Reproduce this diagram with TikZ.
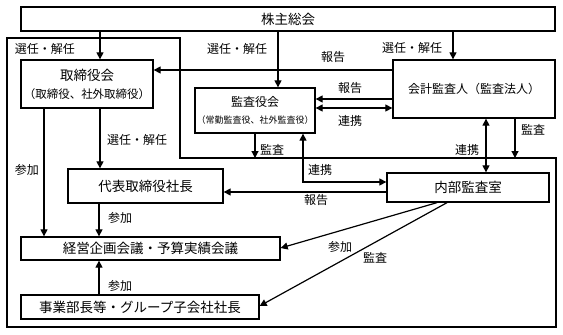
\documentclass[tikz,border=0pt]{standalone}
\usepackage{fontspec}
\setmainfont{Noto Sans CJK JP}
\usetikzlibrary{arrows.meta}
\begin{document}
\begin{tikzpicture}[x=1pt,y=-1pt,
 box/.style={draw, line width=1.3pt, inner sep=0pt, font=\fontsize{13.5}{18}\selectfont, align=center},
 tip/.tip={Triangle[length=7pt,width=7pt]},
 conn/.style={line width=1.2pt, -tip},
 dconn/.style={line width=1.2pt, tip-tip},
 lbl/.style={font=\fontsize{12}{14}\selectfont, inner sep=0pt},
 frame/.style={line width=1.2pt},
]
\useasboundingbox (0,0) rectangle (563,335);
% frame
\draw[frame] (7,38) -- (180,38) -- (180,158) -- (556,158) -- (556,327) -- (7,327) -- cycle;
% nodes
\node[box, minimum width=534pt, minimum height=24pt] (kabu) at (288,19) {株主総会};
\node[box, minimum width=132pt, minimum height=48pt] (torikai) at (87,84) {取締役会\\{\fontsize{11.5}{14}\selectfont （取締役、社外取締役）}};
\node[box, minimum width=120pt, minimum height=45pt] (kansa) at (255,110.5) {{\fontsize{12}{14}\selectfont 監査役会}\\[-1pt]{\fontsize{9}{11}\selectfont （常勤監査役、社外監査役）}};
\node[box, minimum width=162pt, minimum height=58pt] (kaikei) at (474,89) {{\fontsize{12}{14}\selectfont 会計監査人（監査法人）}};
\node[box, minimum width=155pt, minimum height=34pt] (daihyo) at (145.5,186) {代表取締役社長};
\node[box, minimum width=162pt, minimum height=29pt] (naibu) at (468,187.5) {内部監査室};
\node[box, minimum width=259pt, minimum height=23pt] (keiei) at (150.5,248.5) {経営企画会議・予算実績会議};
\node[box, minimum width=238pt, minimum height=24pt] (jigyo) at (140,307) {事業部長等・グループ子会社社長};
% helper coordinates
\coordinate (c44) at (44,0);
\coordinate (c100) at (100,0);
\coordinate (c99) at (99,0);
\coordinate (c255) at (255,0);
\coordinate (c278) at (278,0);
\coordinate (c303) at (303,0);
\coordinate (c437) at (437,0);
\coordinate (c447) at (447,0);
\coordinate (c453) at (453,0);
\coordinate (c486) at (486,0);
\coordinate (c515) at (515,0);
\coordinate (y70) at (0,70);
\coordinate (y99) at (0,99);
\coordinate (y108) at (0,108);
\coordinate (y182) at (0,182);
\coordinate (y192) at (0,192);
\coordinate (y248) at (0,248);
\coordinate (y306) at (0,306);
\coordinate (fl) at (0,158);
% connectors
\draw[conn] (kabu.south -| c100) -- (torikai.north -| c100);
\draw[conn] (kabu.south -| c278) -- (kansa.north -| c278);
\draw[conn] (kabu.south -| c453) -- (kaikei.north -| c453);
\draw[conn] (kaikei.west |- y70) -- (torikai.east |- y70);
\draw[conn] (kaikei.west |- y99) -- (kansa.east |- y99);
\draw[dconn] (kansa.east |- y108) -- (kaikei.west |- y108);
\draw[conn] (kansa.south -| c255) -- (c255 |- fl);
\draw[dconn] (kaikei.south -| c486) -- (naibu.north -| c486);
\draw[conn] (kaikei.south -| c515) -- (c515 |- fl);
\draw[dconn] (kansa.south -| c303) |- (naibu.west |- y182);
\draw[conn] (naibu.west |- y192) -- (daihyo.east |- y192);
\draw[conn] (torikai.south -| c100) -- (daihyo.north -| c100);
\draw[conn] (torikai.south -| c44) -- (keiei.north -| c44);
\draw[conn] (daihyo.south -| c99) -- (keiei.north -| c99);
\draw[conn] (jigyo.north -| c99) -- (keiei.south -| c99);
\draw[conn] (naibu.south -| c437) -- (keiei.east |- y248);
\draw[conn] (naibu.south -| c447) -- (jigyo.east |- y306);
% labels
\node[lbl] (l1) at (45,49) {選任・解任};
\node[lbl] (l2) at (237,49) {選任・解任};
\node[lbl] (l3) at (412,48) {選任・解任};
\node[lbl] (l4) at (333,57) {報告};
\node[lbl] (l5) at (350,88) {報告};
\node[lbl] (l6) at (350,121) {連携};
\node[lbl] (l7) at (272,150) {監査};
\node[lbl] (l8) at (467,150) {連携};
\node[lbl] (l9) at (533,130) {監査};
\node[lbl] (l10) at (320,170) {連携};
\node[lbl] (l11) at (316,200) {報告};
\node[lbl] (l12) at (137,140) {選任・解任};
\node[lbl] (l13) at (27,170) {参加};
\node[lbl] (l14) at (120,218) {参加};
\node[lbl] (l15) at (120,286) {参加};
\node[lbl] (l16) at (340,247) {参加};
\node[lbl] (l17) at (375,258) {監査};
\end{tikzpicture}
\end{document}
